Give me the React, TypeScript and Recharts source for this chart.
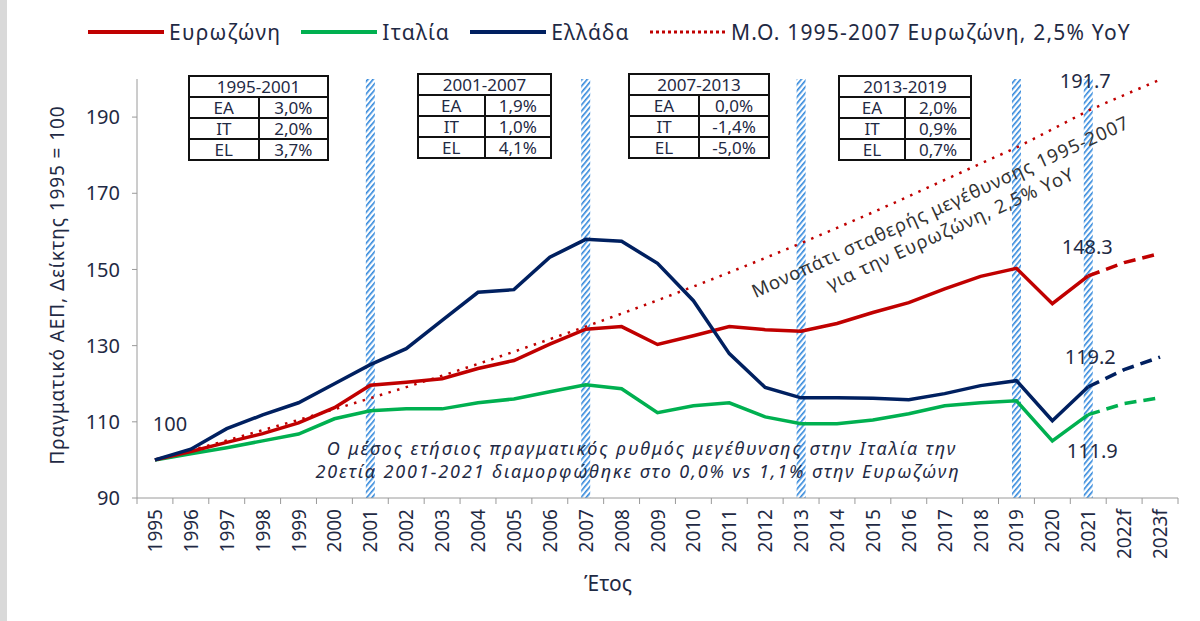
import React from 'react';
import { LineChart, Line, XAxis, YAxis, ReferenceLine, ReferenceDot } from 'recharts';

// Years on the category axis (f = forecast)
const years = [
    '1995', '1996', '1997', '1998', '1999', '2000', '2001', '2002', '2003', '2004',
    '2005', '2006', '2007', '2008', '2009', '2010', '2011', '2012', '2013', '2014',
    '2015', '2016', '2017', '2018', '2019', '2020', '2021', '2022f', '2023f',
];

// Real GDP index, 1995 = 100 (actuals up to 2021)
const eurozone = [
    100, 102.2, 104.6, 106.9, 109.7, 113.7, 119.6, 120.4, 121.3, 124.0,
    126.1, 130.4, 134.3, 135.0, 130.3, 132.6, 135.0, 134.2, 133.8, 135.8,
    138.7, 141.3, 144.9, 148.2, 150.3, 141.0, 148.3,
];
const italy = [
    100, 101.6, 103.2, 105.0, 106.8, 110.8, 112.9, 113.4, 113.4, 115.0,
    116.0, 117.9, 119.7, 118.7, 112.4, 114.2, 115.0, 111.3, 109.5, 109.5,
    110.5, 112.1, 114.2, 115.0, 115.5, 105.0, 111.9,
];
const greece = [
    100, 102.8, 108.2, 111.8, 115.0, 120.0, 125.0, 129.2, 136.6, 144.0,
    144.7, 153.2, 157.9, 157.4, 151.6, 141.8, 127.9, 119.0, 116.3, 116.3,
    116.2, 115.8, 117.4, 119.5, 120.8, 110.3, 119.2,
];

// Forecasts 2021 -> 2023f (dashed)
const eurozoneForecast = [148.3, 151.8, 154.2];
const italyForecast = [111.9, 114.8, 116.3];
const greeceForecast = [119.2, 123.7, 127.0];

// Eurozone 1995-2007 average growth path (2.5% YoY)
const trendPath = [
    100, 102.5, 105.1, 107.8, 110.5, 113.3, 116.2, 119.1, 122.1, 125.2,
    128.4, 131.7, 135.0, 138.4, 141.9, 145.5, 149.2, 153.0, 156.9, 160.9,
    165.0, 169.2, 173.5, 177.8, 182.0, 186.8, 191.7, 195.8, 199.8,
];

const yTicks = [90, 110, 130, 150, 170, 190];
const markerYears = ['2001', '2007', '2013', '2019', '2021'];

// Growth tables
const periods = ['1995-2001', '2001-2007', '2007-2013', '2013-2019'];
const regions = ['EA', 'IT', 'EL'];
const periodRates = [
    ['3,0%', '2,0%', '3,7%'],
    ['1,9%', '1,0%', '4,1%'],
    ['0,0%', '-1,4%', '-5,0%'],
    ['2,0%', '0,9%', '0,7%'],
];

const RED = '#c00000';
const GREEN = '#00b050';
const NAVY = '#002060';
const TEXT = '#1f2a44';
const FONT = '"Noto Sans", "DejaVu Sans", sans-serif';

const W = 1200;
const H = 621;
const MARGIN = { top: 79, right: 22, bottom: 53, left: 77 };
const Y_AXIS_W = 60;
const BAND = (W - MARGIN.left - MARGIN.right - Y_AXIS_W) / years.length;

const lastActual = eurozone.length - 1;
const chartData = years.map((year, i) => ({
    year,
    ez: i < eurozone.length ? eurozone[i] : null,
    it: i < italy.length ? italy[i] : null,
    el: i < greece.length ? greece[i] : null,
    ezF: i >= lastActual ? eurozoneForecast[i - lastActual] : null,
    itF: i >= lastActual ? italyForecast[i - lastActual] : null,
    elF: i >= lastActual ? greeceForecast[i - lastActual] : null,
    trend: trendPath[i],
}));

// table layout (left, top, width, first column width)
const tableBoxes = [
    { left: 188, top: 75, width: 141, col: 59 },
    { left: 417, top: 73, width: 135, col: 65 },
    { left: 628, top: 73, width: 142, col: 55 },
    { left: 838, top: 75, width: 134, col: 58 },
];

const XTick = (props: any) => {
    const { x, y, payload, index } = props;
    const isLast = index === years.length - 1;
    return (
        <g>
            <line x1={x - BAND / 2} x2={x - BAND / 2} y1={y} y2={y + 6} stroke="#9a9a9a" />
            {isLast && <line x1={x + BAND / 2} x2={x + BAND / 2} y1={y} y2={y + 6} stroke="#9a9a9a" />}
            <text
                transform={`translate(${x},${y + 11}) rotate(-90)`}
                textAnchor="end"
                dominantBaseline="central"
                fontSize={19}
                fill={TEXT}
                fontFamily={FONT}
            >
                {payload.value}
            </text>
        </g>
    );
};

const hatchShape = (id: string) => (props: any) => {
    const { x1, y1, y2 } = props;
    const top = Math.min(y1, y2);
    const bottom = Math.max(y1, y2);
    const w = 9;
    return (
        <g>
            <defs>
                <pattern id={id} width="4" height="4" patternUnits="userSpaceOnUse" patternTransform="rotate(40)">
                    <rect width="4" height="4" fill="#ffffff" />
                    <rect width="1.6" height="4" fill="#2f86db" />
                </pattern>
            </defs>
            <rect x={x1 - w / 2} y={top} width={w} height={bottom - top} fill={`url(#${id})`} />
        </g>
    );
};

const valueLabel = (value: number, dx: number, dy: number) => (props: any) => (
    <text
        x={props.cx + dx}
        y={props.cy + dy}
        textAnchor="middle"
        dominantBaseline="central"
        fontSize={20}
        fill={TEXT}
        fontFamily={FONT}
    >
        {Number.isInteger(value) ? String(value) : value.toFixed(1)}
    </text>
);

const legendItems = [
    { label: 'Ευρωζώνη', color: RED, dash: undefined },
    { label: 'Ιταλία', color: GREEN, dash: undefined },
    { label: 'Ελλάδα', color: NAVY, dash: undefined },
    { label: 'Μ.Ο. 1995-2007 Ευρωζώνη, 2,5% YoY', color: RED, dash: '3 3' },
];

const StatTable = ({ idx }: { idx: number }) => {
    const box = tableBoxes[idx];
    const cell: React.CSSProperties = {
        border: '2px solid #111',
        padding: 0,
        height: 19,
        lineHeight: '18px',
        textAlign: 'center',
    };
    return (
        <table
            style={{
                position: 'absolute',
                left: box.left,
                top: box.top,
                width: box.width,
                borderCollapse: 'collapse',
                fontFamily: FONT,
                fontSize: 17,
                color: TEXT,
                background: 'white',
                tableLayout: 'fixed',
            }}
        >
            <tbody>
                <tr>
                    <td colSpan={2} style={cell}>{periods[idx]}</td>
                </tr>
                {regions.map((r, i) => (
                    <tr key={r}>
                        <td style={{ ...cell, width: box.col }}>{r}</td>
                        <td style={cell}>{periodRates[idx][i]}</td>
                    </tr>
                ))}
            </tbody>
        </table>
    );
};

export default function App() {
    return (
        <div style={{ position: 'absolute', left: 0, top: 0, width: W, height: H, background: 'white', fontFamily: FONT }}>
            <div style={{ position: 'absolute', left: 0, top: 0, width: 7, height: H, background: '#d9d9d9' }} />

            {/* legend */}
            <div style={{ position: 'absolute', left: 88, top: 18, display: 'flex', alignItems: 'center', fontSize: 21, letterSpacing: 1.2, color: TEXT }}>
                {legendItems.map((item) => (
                    <div key={item.label} style={{ display: 'flex', alignItems: 'center', marginRight: 20 }}>
                        <svg width={76} height={8} style={{ marginRight: 5 }}>
                            <line x1={0} x2={76} y1={4} y2={4} stroke={item.color} strokeWidth={item.dash ? 3 : 4} strokeDasharray={item.dash} />
                        </svg>
                        <span>{item.label}</span>
                    </div>
                ))}
            </div>

            <LineChart width={W} height={H} data={chartData} margin={MARGIN} style={{ position: 'absolute', left: 0, top: 0 }}>
                <XAxis
                    dataKey="year"
                    height={70}
                    interval={0}
                    padding={{ left: BAND / 2, right: BAND / 2 }}
                    tickLine={false}
                    tickSize={0}
                    tickMargin={0}
                    axisLine={{ stroke: '#9a9a9a' }}
                    tick={<XTick />}
                />
                <YAxis
                    width={Y_AXIS_W}
                    domain={[90, 200]}
                    ticks={yTicks}
                    tickSize={5}
                    tickMargin={12}
                    axisLine={{ stroke: '#9a9a9a' }}
                    tickLine={{ stroke: '#9a9a9a' }}
                    tick={{ fontSize: 20, fill: TEXT, fontFamily: FONT }}
                />
                {markerYears.map((yr) => (
                    <ReferenceLine key={yr} x={yr} shape={hatchShape(`hatch-${yr}`)} />
                ))}
                <Line dataKey="trend" stroke={RED} strokeWidth={2.5} strokeDasharray="2.5 6.5" dot={false} isAnimationActive={false} />
                <Line dataKey="it" stroke={GREEN} strokeWidth={3.5} dot={false} isAnimationActive={false} />
                <Line dataKey="ez" stroke={RED} strokeWidth={3.5} dot={false} isAnimationActive={false} />
                <Line dataKey="el" stroke={NAVY} strokeWidth={3.5} dot={false} isAnimationActive={false} />
                <Line dataKey="itF" stroke={GREEN} strokeWidth={3.5} strokeDasharray="12 7" dot={false} isAnimationActive={false} />
                <Line dataKey="ezF" stroke={RED} strokeWidth={3.5} strokeDasharray="12 7" dot={false} isAnimationActive={false} />
                <Line dataKey="elF" stroke={NAVY} strokeWidth={3.5} strokeDasharray="12 7" dot={false} isAnimationActive={false} />

                <ReferenceDot x="1995" y={eurozone[0]} r={0} shape={valueLabel(eurozone[0], 15, -36)} />
                <ReferenceDot x="2021" y={trendPath[26]} r={0} shape={valueLabel(trendPath[26], -3, -30)} />
                <ReferenceDot x="2021" y={eurozone[lastActual]} r={0} shape={valueLabel(eurozone[lastActual], -1, -29)} />
                <ReferenceDot x="2021" y={greece[lastActual]} r={0} shape={valueLabel(greece[lastActual], 2, -30)} />
                <ReferenceDot x="2021" y={italy[lastActual]} r={0} shape={valueLabel(italy[lastActual], 4, 36)} />
            </LineChart>

            {tableBoxes.map((_, i) => (
                <StatTable key={i} idx={i} />
            ))}

            {/* text annotations */}
            <svg width={W} height={H} style={{ position: 'absolute', left: 0, top: 0, pointerEvents: 'none' }} fontFamily={FONT}>
                <text
                    transform="translate(57,285) rotate(-90)"
                    textAnchor="middle"
                    dominantBaseline="central"
                    fontSize={19}
                    letterSpacing={0.9}
                    fill={TEXT}
                >
                    Πραγματικό ΑΕΠ, Δείκτης 1995 = 100
                </text>
                <text x={608} y={583} textAnchor="middle" dominantBaseline="central" fontSize={21} fill={TEXT}>
                    Έτος
                </text>
                <g fontStyle="italic" fontSize={18} letterSpacing={1.9} fill={TEXT} textAnchor="middle">
                    <text x={642} y={448} dominantBaseline="central">
                        Ο μέσος ετήσιος πραγματικός ρυθμός μεγέθυνσης στην Ιταλία την
                    </text>
                    <text x={638} y={471} dominantBaseline="central">
                        20ετία 2001-2021 διαμορφώθηκε στο 0,0% vs 1,1% στην Ευρωζώνη
                    </text>
                </g>
                <g fontSize={18.5} letterSpacing={1.0} fill="#333" textAnchor="middle">
                    <text transform="translate(940,206) rotate(-24.5)" dominantBaseline="central">
                        Μονοπάτι σταθερής μεγέθυνσης 1995-2007
                    </text>
                    <text transform="translate(950,228) rotate(-24.5)" dominantBaseline="central">
                        για την Ευρωζώνη, 2,5% YoY
                    </text>
                </g>
            </svg>
        </div>
    );
}
